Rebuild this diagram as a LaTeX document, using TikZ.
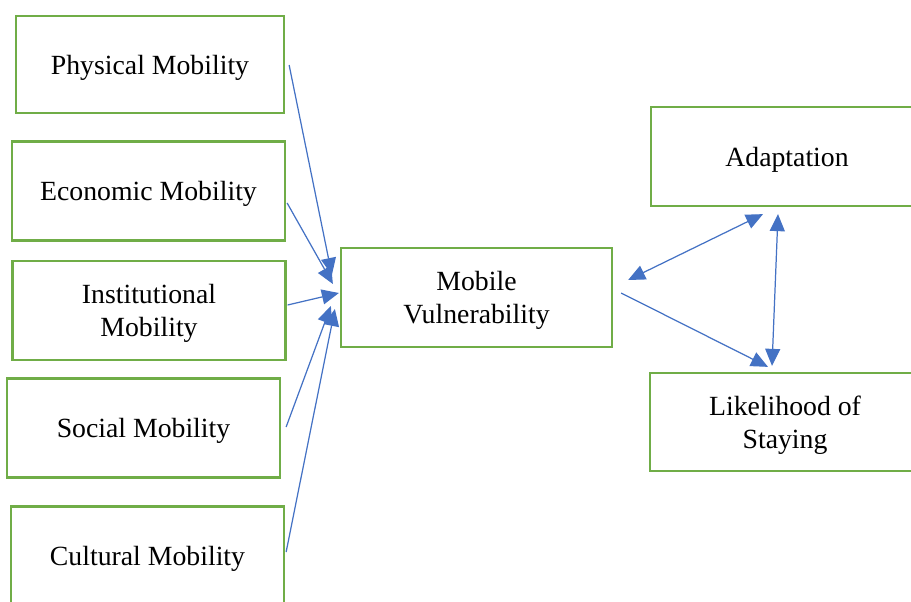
\documentclass[tikz,border=0pt]{standalone}
\usepackage{fontspec}
\setmainfont{Liberation Serif}
\usetikzlibrary{arrows.meta,calc}
\definecolor{boxgreen}{HTML}{70AD47}
\definecolor{linkblue}{HTML}{4472C4}

\begin{document}
\begin{tikzpicture}[x=0.02cm,y=-0.02cm,
  factor/.style={draw=boxgreen,line width=1.3pt,align=center,inner sep=0pt,
    minimum width=5.46cm,minimum height=1.98cm,text depth=0pt,
    font=\fontsize{15.8}{18.5}\selectfont},
  link/.style={draw=linkblue,line width=0.7pt,
    -{Triangle[length=0.34cm,width=0.3cm]}},
  duallink/.style={link,{Triangle[length=0.34cm,width=0.3cm]}-{Triangle[length=0.34cm,width=0.3cm]}}]
  \useasboundingbox (0,0) rectangle (911,601);

  % kinds of mobility
  \node[factor,minimum width=5.36cm,minimum height=1.94cm] (phys) at (150,64.5) {Physical Mobility};
  \node[factor] (econ) at (148.5,191) {Economic Mobility};
  \node[factor] (inst) at (149,310.5) {Institutional\\Mobility};
  \node[factor] (soc) at (143.5,428) {Social Mobility};
  \node[factor] (cult) at (147.5,556) {Cultural Mobility};

  \node[factor,minimum width=5.42cm] (mv) at (476.5,297.5) {Mobile\\Vulnerability};

  \node[factor,minimum width=5.44cm] (adapt) at (787,156.5) {Adaptation};
  \node[factor,minimum width=5.40cm,minimum height=1.96cm] (stay) at (785,422) {Likelihood of\\Staying};

  \draw[link] ($(phys.east)+(4,0.5)$) -- ($(mv.west)+(-8,-22.5)$);
  \draw[link] ($(econ.east)+(1,12)$) -- ($(mv.west)+(-7,-13.5)$);
  \draw[link] ($(inst.east)+(1,-5.5)$) -- ($(mv.west)+(-1,-4.5)$);
  \draw[link] ($(soc.east)+(5,-1)$) -- ($(mv.west)+(-9,8.5)$);
  \draw[link] ($(cult.east)+(1,-4)$) -- ($(mv.west)+(-5,11.5)$);

  \draw[duallink] ($(mv.east)+(15,-17.5)$) -- ($(adapt.south)+(-24,7)$);
  \draw[duallink] ($(adapt.south)+(-9,7)$) -- ($(stay.north)+(-13,-6)$);
  \draw[link] ($(mv.east)+(8,-4.5)$) -- ($(stay.north)+(-17,-5)$);

\end{tikzpicture}
\end{document}
